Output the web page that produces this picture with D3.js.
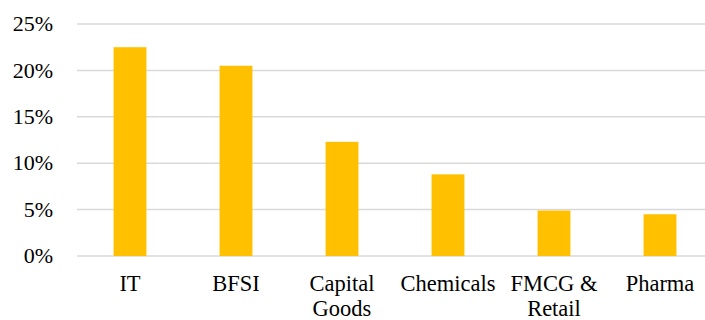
<!DOCTYPE html>
<html><head><meta charset="utf-8">
<script src="https://cdn.jsdelivr.net/npm/d3@7"></script>
<style>body{margin:0;background:#fff}svg{display:block}</style>
</head><body>
<script>
const categories = ["IT", "BFSI", "Capital Goods", "Chemicals", "FMCG & Retail", "Pharma"];
const labelLines = [["IT"], ["BFSI"], ["Capital", "Goods"], ["Chemicals"], ["FMCG &", "Retail"], ["Pharma"]];
const values = [22.5, 20.5, 12.3, 8.8, 4.9, 4.5];
const yTicks = [0, 5, 10, 15, 20, 25];

const W = 705, H = 320;
const svg = d3.select("body").append("svg").attr("width", W).attr("height", H);
const FONT = "'Liberation Serif'";

const x = d3.scaleBand().domain(categories).range([77, 713]).paddingInner(0.69).paddingOuter(0.345);
const y = d3.scaleLinear().domain([0, 25]).range([256, 24]);

// gridlines
svg.append("g").selectAll("line").data(yTicks).join("line")
  .attr("x1", 77).attr("x2", 713)
  .attr("y1", d => y(d)).attr("y2", d => y(d))
  .attr("stroke", "#d9d9d9").attr("stroke-width", 1.5);

// y labels
svg.append("g").selectAll("text").data(yTicks).join("text")
  .attr("x", 53).attr("y", d => y(d)).attr("dy", "0.33em")
  .attr("text-anchor", "end")
  .style("font-family", FONT).attr("font-size", 22).attr("fill", "#000")
  .text(d => d + "%");

// bars
svg.append("g").selectAll("rect").data(values).join("rect")
  .attr("x", (d, i) => x(categories[i]))
  .attr("width", x.bandwidth())
  .attr("y", d => y(d))
  .attr("height", d => y(0) - y(d))
  .attr("fill", "#FFC000");

// x labels
const xl = svg.append("g").selectAll("text").data(categories).join("text")
  .attr("x", d => x(d) + x.bandwidth() / 2)
  .attr("y", 291)
  .attr("text-anchor", "middle")
  .style("font-family", FONT).attr("font-size", 22.5).attr("fill", "#000");
xl.each(function(d, i) {
  const t = d3.select(this);
  labelLines[i].forEach((ln, j) => {
    t.append("tspan").attr("x", x(d) + x.bandwidth() / 2).attr("dy", j === 0 ? 0 : 24.5).text(ln);
  });
});
</script>
</body></html>
